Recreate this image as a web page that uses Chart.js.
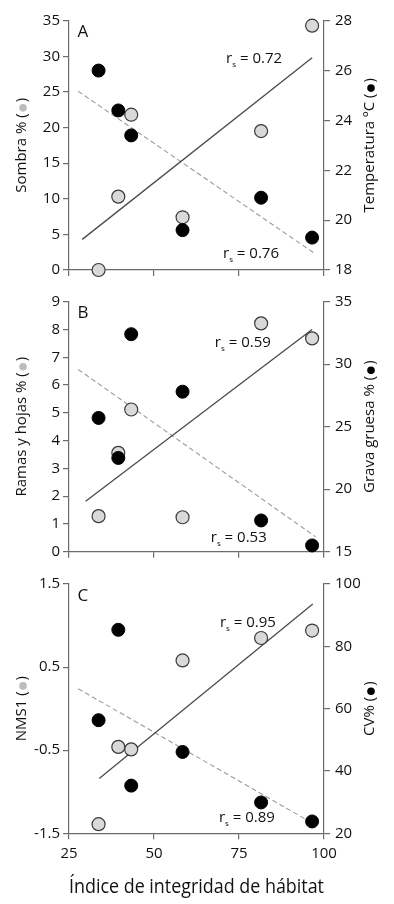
<!DOCTYPE html>
<html>
<head>
<meta charset="utf-8">
<script src="https://cdn.jsdelivr.net/npm/chart.js@4.4.1/dist/chart.umd.min.js"></script>
<style>
  html, body { margin: 0; padding: 0; background: #fff; }
  body { width: 394px; height: 904px; position: relative; overflow: hidden; }
  canvas { position: absolute; left: 0; }
</style>
</head>
<body>
<canvas id="chartA" width="394" height="290" style="top:0px"></canvas>
<canvas id="chartB" width="394" height="300" style="top:280px"></canvas>
<canvas id="chartC" width="394" height="334" style="top:570px"></canvas>
<script>
// ---- data ----
const habitatIndex = [33.7, 39.5, 43.3, 58.4, 81.5, 96.5];
const xTicks = [25, 50, 75, 100];

// A
const sombra = [0, 10.3, 21.8, 7.4, 19.5, 34.3];
const temperatura = [26.0, 24.4, 23.4, 19.6, 20.9, 19.3];
const sombraTicks = [0, 5, 10, 15, 20, 25, 30, 35];
const temperaturaTicks = [18, 20, 22, 24, 26, 28];
const sombraFitX = [28.9, 96.5];
const sombraFitY = [4.3, 29.8];
const temperaturaFitX = [27.7, 97.5];
const temperaturaFitY = [25.17, 18.64];

// B
const ramasHojas = [1.28, 3.56, 5.12, 1.24, 8.22, 7.68];
const gravaGruesa = [25.7, 22.5, 32.4, 27.8, 17.5, 15.5];
const ramasTicks = [0, 1, 2, 3, 4, 5, 6, 7, 8, 9];
const gravaTicks = [15, 20, 25, 30, 35];
const ramasFitX = [29.9, 96.5];
const ramasFitY = [1.82, 8.0];
const gravaFitX = [27.7, 97.5];
const gravaFitY = [29.58, 16.2];

// C
const nms1 = [-1.39, -0.46, -0.49, 0.58, 0.85, 0.94];
const cvPct = [56.3, 85.3, 35.3, 46.1, 29.9, 23.8];
const nmsTicks = [-1.5, -0.5, 0.5, 1.5];
const cvTicks = [20, 40, 60, 80, 100];
const nmsFitX = [33.9, 96.7];
const nmsFitY = [-0.84, 1.26];
const cvFitX = [27.7, 97.5];
const cvFitY = [66.4, 22.7];

// ---- styling ----
const fontFamily = '"Open Sans", sans-serif';
const grayFill = '#d9d9d9';
const axisColor = '#6b6b6b';
Chart.defaults.font.family = fontFamily;
Chart.defaults.font.size = 15;
Chart.defaults.color = '#111';

const toPoints = (xs, ys) => xs.map((x, i) => ({ x: x, y: ys[i] }));
const fixTicks = list => scale => { scale.ticks = list.map(v => ({ value: v })); };

// rotated axis titles with the marker dot inside the brackets
const sideTitles = {
    id: 'sideTitles',
    afterDraw(chart, args, opts) {
        const ctx = chart.ctx;
        const area = chart.chartArea;
        const cy = (area.top + area.bottom) / 2;
        ctx.save();
        ctx.font = '15px ' + fontFamily;
        ctx.textBaseline = 'middle';
        ctx.textAlign = 'left';
        [[opts.left, 22, '#bcbcbc'], [opts.right, 370, '#000']].forEach(([text, x, dotColor]) => {
            const head = text + ' (';
            const gap = 11;
            const w1 = ctx.measureText(head).width;
            const w2 = ctx.measureText(')').width;
            const start = -(w1 + gap + w2) / 2;
            ctx.save();
            ctx.translate(x, cy);
            ctx.rotate(-Math.PI / 2);
            ctx.fillStyle = '#111';
            ctx.fillText(head, start, 0);
            ctx.fillText(')', start + w1 + gap, 0);
            ctx.beginPath();
            ctx.arc(start + w1 + gap / 2, 1, 3.8, 0, Math.PI * 2);
            ctx.fillStyle = dotColor;
            ctx.fill();
            ctx.restore();
        });
        ctx.restore();
    }
};

// r_s labels + panel letter
const rsLabels = {
    id: 'rsLabels',
    afterDatasetsDraw(chart, args, opts) {
        const ctx = chart.ctx;
        const xs = chart.scales.x, ys = chart.scales.y;
        ctx.save();
        ctx.fillStyle = '#111';
        ctx.textBaseline = 'alphabetic';
        ctx.textAlign = 'left';
        opts.items.forEach(item => {
            let px = xs.getPixelForValue(item.x);
            const py = ys.getPixelForValue(item.y);
            ctx.font = '15px ' + fontFamily;
            ctx.fillText('r', px, py);
            px += ctx.measureText('r').width;
            ctx.font = '8px ' + fontFamily;
            ctx.fillText('s', px, py + 4);
            px += ctx.measureText('s').width;
            ctx.font = '15px ' + fontFamily;
            ctx.fillText(' = ' + item.value, px, py);
        });
        ctx.font = '17px ' + fontFamily;
        ctx.fillText(opts.letter, chart.chartArea.left + 8.5, chart.chartArea.top + 16.5);
        ctx.restore();
    }
};

function buildPanel(id, p) {
    const axisBase = {
        grid: { drawOnChartArea: false, drawTicks: true, tickLength: 6, color: axisColor, lineWidth: 1.2 },
        border: { color: axisColor, width: 1.2 }
    };
    return new Chart(document.getElementById(id), {
        type: 'scatter',
        data: {
            datasets: [
                { data: toPoints(habitatIndex, p.rightValues), yAxisID: 'y1', backgroundColor: '#000', borderColor: '#000', borderWidth: 1, pointRadius: 6.5, clip: false },
                { data: toPoints(habitatIndex, p.leftValues), yAxisID: 'y', backgroundColor: grayFill, borderColor: '#3a3a3a', borderWidth: 1.2, pointRadius: 6.5, clip: false },
                { data: toPoints(p.leftFitX, p.leftFitY), yAxisID: 'y', showLine: true, borderColor: '#4a4a4a', borderWidth: 1.3, pointRadius: 0, clip: false },
                { data: toPoints(p.rightFitX, p.rightFitY), yAxisID: 'y1', showLine: true, borderColor: '#9a9a9a', borderWidth: 1.1, borderDash: [5, 3], pointRadius: 0, clip: false }
            ]
        },
        options: {
            responsive: false,
            animation: false,
            events: [],
            layout: { padding: { top: p.padTop, left: 0, right: 0, bottom: 0 } },
            plugins: {
                legend: { display: false },
                tooltip: { enabled: false },
                sideTitles: { left: p.leftTitle, right: p.rightTitle },
                rsLabels: { items: p.rs, letter: p.letter }
            },
            scales: {
                x: {
                    ...axisBase,
                    type: 'linear', min: 25, max: 100,
                    afterBuildTicks: fixTicks(xTicks),
                    afterFit: s => { s.height = p.xHeight; },
                    ticks: { display: p.showX, padding: 5, maxRotation: 0 },
                    title: { display: p.showX, text: 'Índice de integridad de hábitat', font: { size: 19.5 }, padding: { top: 0, bottom: 5 } }
                },
                y: {
                    ...axisBase,
                    position: 'left', min: p.leftTicks[0], max: p.leftTicks[p.leftTicks.length - 1],
                    afterBuildTicks: fixTicks(p.leftTicks),
                    afterFit: s => { s.width = 69; },
                    ticks: { padding: 3, callback: v => String(v) }
                },
                y1: {
                    ...axisBase,
                    position: 'right', min: p.rightTicks[0], max: p.rightTicks[p.rightTicks.length - 1],
                    afterBuildTicks: fixTicks(p.rightTicks),
                    afterFit: s => { s.width = 70; },
                    ticks: { padding: 5, callback: v => String(v) }
                }
            }
        },
        plugins: [sideTitles, rsLabels]
    });
}

buildPanel('chartA', {
    padTop: 20.7, xHeight: 20, showX: false, letter: 'A',
    leftValues: sombra, rightValues: temperatura,
    leftTicks: sombraTicks, rightTicks: temperaturaTicks,
    leftFitX: sombraFitX, leftFitY: sombraFitY, rightFitX: temperaturaFitX, rightFitY: temperaturaFitY,
    leftTitle: 'Sombra %', rightTitle: 'Temperatura ºC',
    rs: [{ x: 71.2, y: 29.0, value: '0.72' }, { x: 70.3, y: 1.7, value: '0.76' }]
});

buildPanel('chartB', {
    padTop: 21.7, xHeight: 28.3, showX: false, letter: 'B',
    leftValues: ramasHojas, rightValues: gravaGruesa,
    leftTicks: ramasTicks, rightTicks: gravaTicks,
    leftFitX: ramasFitX, leftFitY: ramasFitY, rightFitX: gravaFitX, rightFitY: gravaFitY,
    leftTitle: 'Ramas y hojas %', rightTitle: 'Grava gruesa %',
    rs: [{ x: 67.9, y: 7.38, value: '0.59' }, { x: 66.7, y: 0.34, value: '0.53' }]
});

buildPanel('chartC', {
    padTop: 13.3, xHeight: 70.7, showX: true, letter: 'C',
    leftValues: nms1, rightValues: cvPct,
    leftTicks: nmsTicks, rightTicks: cvTicks,
    leftFitX: nmsFitX, leftFitY: nmsFitY, rightFitX: cvFitX, rightFitY: cvFitY,
    leftTitle: 'NMS1', rightTitle: 'CV%',
    rs: [{ x: 69.4, y: 0.98, value: '0.95' }, { x: 69.1, y: -1.36, value: '0.89' }]
});
</script>
</body>
</html>
